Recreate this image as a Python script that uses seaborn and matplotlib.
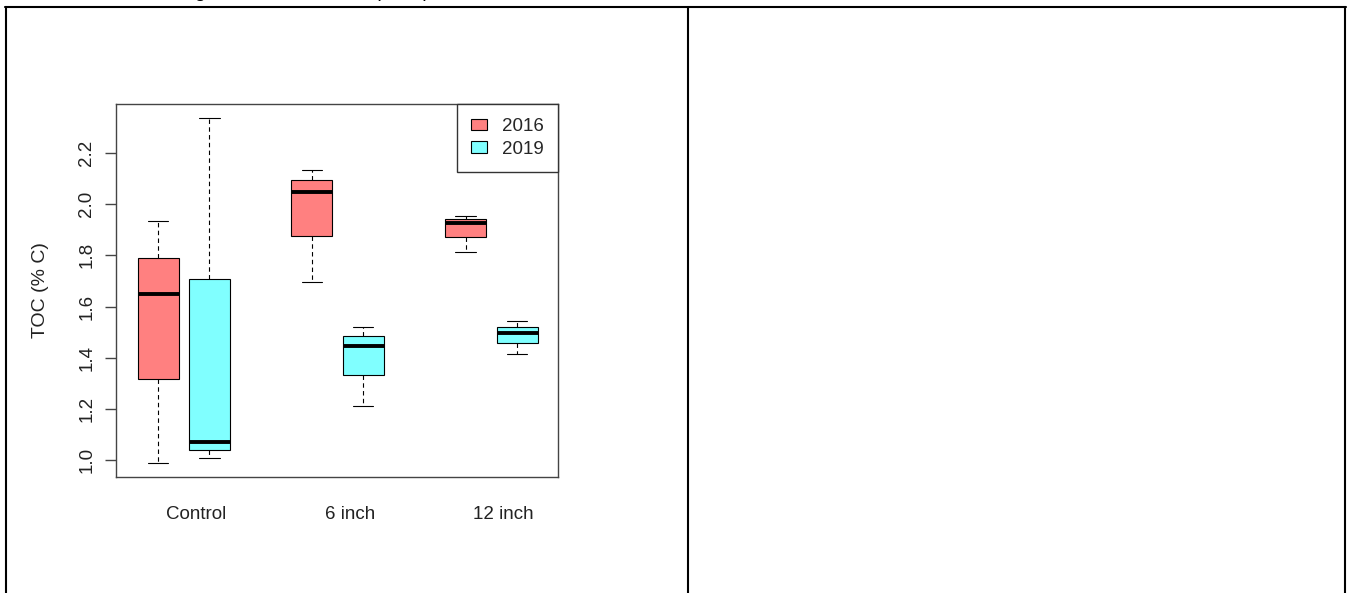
import numpy as np
import pandas as pd
import matplotlib.pyplot as plt
import seaborn as sns
from matplotlib.lines import Line2D

treatments = ["Control", "6 inch", "12 inch"]
years = ["2016", "2019"]

# five-number summaries: min, Q1, median, Q3, max
control_2016 = [0.99, 1.316, 1.647, 1.79, 1.935]
control_2019 = [1.007, 1.039, 1.071, 1.706, 2.337]
inch6_2016 = [1.697, 1.875, 2.046, 2.094, 2.135]
inch6_2019 = [1.212, 1.332, 1.445, 1.484, 1.521]
inch12_2016 = [1.814, 1.872, 1.925, 1.94, 1.953]
inch12_2019 = [1.413, 1.456, 1.495, 1.518, 1.543]

y_ticks = [1.0, 1.2, 1.4, 1.6, 1.8, 2.0, 2.2]
colors = {"2016": "#FF8080", "2019": "#80FFFF"}
caption = "Figure 3. Soil Carbon (TOC)"

series = {
    ("Control", "2016"): control_2016,
    ("Control", "2019"): control_2019,
    ("6 inch", "2016"): inch6_2016,
    ("6 inch", "2019"): inch6_2019,
    ("12 inch", "2016"): inch12_2016,
    ("12 inch", "2019"): inch12_2019,
}
rows = [(t, yr, v) for (t, yr), vals in series.items() for v in vals]
df = pd.DataFrame(rows, columns=["treatment", "year", "toc"])

sns.set_style("white")
plt.rcParams["font.family"] = ["Liberation Sans", "DejaVu Sans"]

W, H = 1350, 593
fig = plt.figure(figsize=(W / 100, H / 100), dpi=100)
fig.patch.set_facecolor("white")


def fx(px):
    return px / W


def fy(py):
    return 1 - py / H


ax = fig.add_axes([fx(116), fy(477), fx(558) - fx(116), fy(104) - fy(477)])

sns.boxplot(
    data=df, x="treatment", y="toc", hue="year",
    order=treatments, hue_order=years, palette=colors, saturation=1,
    width=2 / 3, gap=0.2, whis=(0, 100), fliersize=0,
    linecolor="black", linewidth=0.8,
    medianprops=dict(linewidth=2.8, color="black"),
    whiskerprops=dict(linestyle=(0, (4, 3))),
    ax=ax,
)

fs = 13.5
ax.set_xlim(-0.44, 2.433)
ax.set_ylim(0.934, 2.391)
ax.set_xlabel("")
ax.set_ylabel("TOC (% C)", fontsize=14, color="#222222", labelpad=21)
ax.set_yticks(y_ticks, labels=[f"{v:.1f}" for v in y_ticks])
ax.set_xticks(np.arange(len(treatments)) + 0.08, labels=treatments)
ax.tick_params(axis="y", left=True, length=8, width=1, color="#444444",
               labelsize=fs, labelcolor="#222222", pad=7,
               labelrotation=90)
for lab in ax.get_yticklabels():
    lab.set_va("center")
ax.tick_params(axis="x", bottom=False, length=0, labelsize=fs,
               labelcolor="#222222", pad=21)
for sp in ax.spines.values():
    sp.set_visible(True)
    sp.set_color("#444444")
    sp.set_linewidth(1)

leg = ax.get_legend()
handles = leg.legend_handles
labels = [t.get_text() for t in leg.get_texts()]
leg.remove()
for h in handles:
    h.set_edgecolor("black")
    h.set_linewidth(0.8)
new_leg = ax.legend(handles, labels, loc="upper right", borderaxespad=0,
                    fancybox=False, edgecolor="#333333", framealpha=1,
                    fontsize=fs, handlelength=0.85, handleheight=0.6,
                    handletextpad=0.8, labelspacing=0.3, borderpad=0.75)
new_leg.get_frame().set_linewidth(1)

# document table around the chart
lw = 1.5
fig.add_artist(Line2D([fx(5), fx(1346)], [fy(7), fy(7)], transform=fig.transFigure, color="black", lw=lw))
fig.add_artist(Line2D([fx(6), fx(6)], [fy(7), fy(H + 2)], transform=fig.transFigure, color="black", lw=lw))
fig.add_artist(Line2D([fx(688), fx(688)], [fy(7), fy(H + 2)], transform=fig.transFigure, color="black", lw=lw))
fig.add_artist(Line2D([fx(1345), fx(1345)], [fy(7), fy(H + 2)], transform=fig.transFigure, color="black", lw=lw))

# caption above the table, cut off by the top edge as in the reference
fig.text(fx(178), fy(-3), caption, fontsize=14.5, va="baseline", ha="left", color="black")

fig.savefig("out.png", dpi=100)
